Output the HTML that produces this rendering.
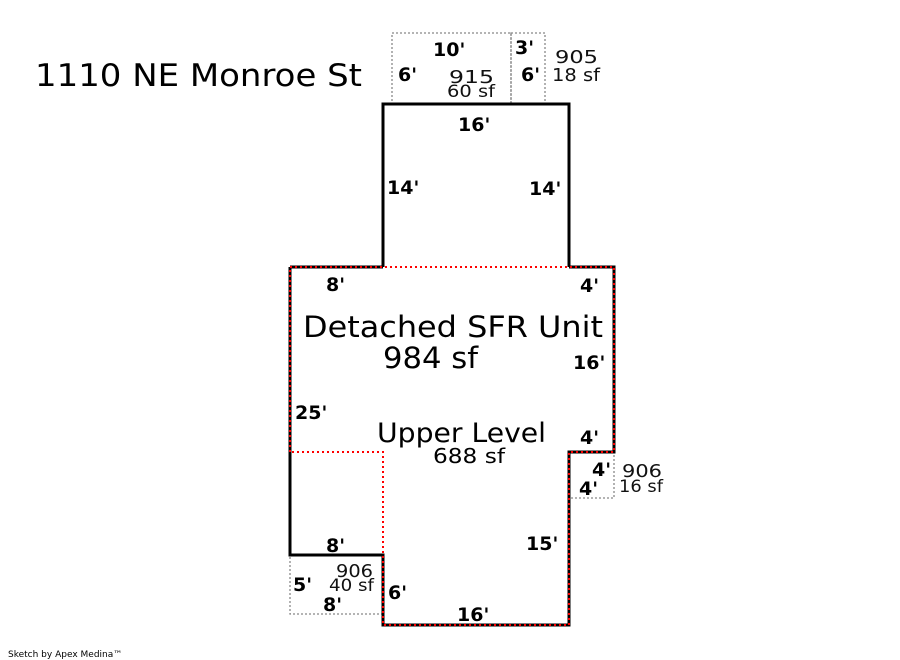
<!DOCTYPE html>
<html><head><style>html,body{margin:0;padding:0;background:#fff;}svg{display:block}</style></head>
<body>
<svg width="900" height="660" viewBox="0 0 900 660" xmlns="http://www.w3.org/2000/svg" font-family="DejaVu Sans, Liberation Sans, sans-serif">
<rect width="900" height="660" fill="#fff"/>
<g fill="none" stroke="#888" stroke-width="1.3" stroke-dasharray="2,2">
<rect x="392" y="33" width="119" height="71"/>
<rect x="511" y="33" width="34" height="71"/>
<rect x="569" y="452" width="45" height="46"/>
<rect x="290" y="555" width="93" height="59"/>
</g>
<path d="M383,267 V104 H569 V267 M290,267 H383 M569,267 H614 V452 H569 V625 H383 V555 H290 V267" fill="none" stroke="#000" stroke-width="3"/>
<g fill="none" stroke="#f00" stroke-width="2" stroke-dasharray="2,3">
<path d="M290,452 V267 H614 V452 H569 V625 H383 V452 H290"/>
</g>
<text x="35" y="86" font-size="31" textLength="327" lengthAdjust="spacingAndGlyphs">1110 NE Monroe St</text>
<g font-weight="bold" font-size="19">
<text x="433" y="56">10'</text>
<text x="515" y="54">3'</text>
<text x="398" y="81">6'</text>
<text x="521" y="81">6'</text>
<text x="458" y="131">16'</text>
<text x="387" y="194">14'</text>
<text x="529" y="195">14'</text>
<text x="326" y="291">8'</text>
<text x="580" y="292">4'</text>
<text x="573" y="369">16'</text>
<text x="295" y="419">25'</text>
<text x="580" y="444">4'</text>
<text x="592" y="476">4'</text>
<text x="579" y="495">4'</text>
<text x="526" y="550">15'</text>
<text x="326" y="552">8'</text>
<text x="293" y="591">5'</text>
<text x="323" y="611">8'</text>
<text x="388" y="599">6'</text>
<text x="457" y="621">16'</text>
</g>
<g font-size="18" fill="#111">
<text x="449" y="83" textLength="45" lengthAdjust="spacingAndGlyphs">915</text>
<text x="447" y="97" font-size="17" textLength="48" lengthAdjust="spacingAndGlyphs">60 sf</text>
<text x="555" y="63" textLength="43" lengthAdjust="spacingAndGlyphs">905</text>
<text x="552" y="81" textLength="48" lengthAdjust="spacingAndGlyphs">18 sf</text>
<text x="622" y="477" textLength="40" lengthAdjust="spacingAndGlyphs">906</text>
<text x="619" y="492" font-size="17" textLength="44" lengthAdjust="spacingAndGlyphs">16 sf</text>
<text x="336" y="577" textLength="37" lengthAdjust="spacingAndGlyphs">906</text>
<text x="329" y="591" font-size="17" textLength="45" lengthAdjust="spacingAndGlyphs">40 sf</text>
</g>
<text x="303" y="337" font-size="29" textLength="300" lengthAdjust="spacingAndGlyphs">Detached SFR Unit</text>
<text x="383" y="368" font-size="29" textLength="95" lengthAdjust="spacingAndGlyphs">984 sf</text>
<text x="377" y="442" font-size="27" textLength="169" lengthAdjust="spacingAndGlyphs">Upper Level</text>
<text x="433" y="463" font-size="20" textLength="72" lengthAdjust="spacingAndGlyphs">688 sf</text>
<text x="8" y="657" font-size="9">Sketch by Apex Medina™</text>
</svg>
</body></html>
